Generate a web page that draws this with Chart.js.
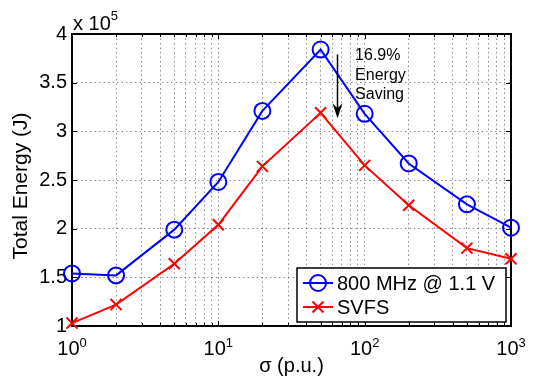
<!DOCTYPE html>
<html>
<head>
<meta charset="utf-8">
<script src="https://cdn.jsdelivr.net/npm/chart.js@4.4.1/dist/chart.umd.min.js"></script>
<style>
  html, body { margin: 0; padding: 0; background: #fff; }
  #c { display: block; }
</style>
</head>
<body>
<canvas id="c" width="536" height="383"></canvas>
<script>
// Total energy (x 10^5 J) versus sigma (p.u.)
const sigma = [1, 2, 5, 10, 20, 50, 100, 200, 500, 1000];
const energyFixed = [1.54, 1.52, 1.99, 2.48, 3.21, 3.84, 3.18, 2.67, 2.25, 2.01];
const energySVFS = [1.03, 1.22, 1.64, 2.04, 2.64, 3.19, 2.65, 2.24, 1.80, 1.69];
const seriesNames = ['800 MHz @ 1.1 V', 'SVFS'];
const yTicks = [1, 1.5, 2, 2.5, 3, 3.5, 4];
const xDecadeExponents = [0, 1, 2, 3];
const savingLines = ['16.9%', 'Energy', 'Saving'];
const savingAnchor = { sigma: 86, energy: 3.80 };
const arrowAt = { sigma: 65, from: 3.79, to: 3.135 };

const FONT = '"Liberation Sans", Arial, Helvetica, sans-serif';
const BLUE = '#0000ff';
const RED = '#ff0000';

// grid positions on the log axis: 1..9 in every decade, then 1000
const xGrid = [];
xDecadeExponents.slice(0, -1).forEach(e => {
  for (let k = 1; k <= 9; k++) xGrid.push(k * Math.pow(10, e));
});
xGrid.push(Math.pow(10, xDecadeExponents[xDecadeExponents.length - 1]));
const isDecade = v => xDecadeExponents.some(e => Math.abs(Math.pow(10, e) - v) < 1e-9);

const toPoints = vals => sigma.map((s, i) => ({ x: s, y: vals[i] }));

function drawMarker(ctx, style, cx, cy, color) {
  ctx.save();
  ctx.strokeStyle = color;
  ctx.lineWidth = 2;
  ctx.beginPath();
  if (style === 'circle') {
    ctx.arc(cx, cy, 8, 0, Math.PI * 2);
  } else {
    const h = 5.5;
    ctx.moveTo(cx - h, cy - h); ctx.lineTo(cx + h, cy + h);
    ctx.moveTo(cx - h, cy + h); ctx.lineTo(cx + h, cy - h);
  }
  ctx.stroke();
  ctx.restore();
}

const decorations = {
  id: 'decorations',
  beforeDatasetsDraw(chart) {
    const { ctx, chartArea: a, scales: { x, y } } = chart;
    ctx.save();
    ctx.strokeStyle = '#000';
    ctx.lineWidth = 1;
    ctx.beginPath();
    // inward tick marks on all four sides
    x.ticks.forEach(t => {
      const px = Math.round(x.getPixelForValue(t.value)) + 0.5;
      const len = t.major ? 5 : 3;
      ctx.moveTo(px, a.bottom); ctx.lineTo(px, a.bottom - len);
      ctx.moveTo(px, a.top); ctx.lineTo(px, a.top + len);
    });
    y.ticks.forEach(t => {
      const py = Math.round(y.getPixelForValue(t.value)) + 0.5;
      ctx.moveTo(a.left, py); ctx.lineTo(a.left + 5, py);
      ctx.moveTo(a.right, py); ctx.lineTo(a.right - 5, py);
    });
    ctx.stroke();
    // axes box
    ctx.lineWidth = 2;
    ctx.strokeRect(a.left, a.top, a.right - a.left, a.bottom - a.top);
    ctx.restore();
  },
  afterDraw(chart) {
    const { ctx, chartArea: a, scales: { x, y } } = chart;
    ctx.save();
    ctx.fillStyle = '#000';

    // x tick labels: 10^n
    xDecadeExponents.forEach(e => {
      const px = x.getPixelForValue(Math.pow(10, e));
      ctx.font = '20px ' + FONT;
      const wBase = ctx.measureText('10').width;
      ctx.font = '13px ' + FONT;
      const wExp = ctx.measureText(String(e)).width;
      const left = px - (wBase + wExp) / 2;
      ctx.textAlign = 'left';
      ctx.textBaseline = 'alphabetic';
      ctx.font = '20px ' + FONT;
      ctx.fillText('10', left, a.bottom + 29);
      ctx.font = '13px ' + FONT;
      ctx.fillText(String(e), left + wBase, a.bottom + 21);
    });

    // y multiplier: x 10^5
    ctx.font = '20px ' + FONT;
    ctx.textAlign = 'left';
    ctx.fillText('x 10', a.left + 1, a.top - 4);
    const wm = ctx.measureText('x 10').width;
    ctx.font = '13px ' + FONT;
    ctx.fillText('5', a.left + 1 + wm, a.top - 14);

    // axis titles
    ctx.font = '20px ' + FONT;
    ctx.textAlign = 'center';
    ctx.fillText('\u03c3 (p.u.)', (a.left + a.right) / 2, a.bottom + 46);
    ctx.save();
    ctx.translate(27, (a.top + a.bottom) / 2 + 6);
    ctx.rotate(-Math.PI / 2);
    ctx.font = '21px ' + FONT;
    ctx.fillText('Total Energy (J)', 0, 0);
    ctx.restore();

    // saving note and arrow
    ctx.font = '16px ' + FONT;
    ctx.textAlign = 'left';
    const tx = x.getPixelForValue(savingAnchor.sigma);
    const ty = y.getPixelForValue(savingAnchor.energy);
    savingLines.forEach((s, i) => ctx.fillText(s, tx, ty + 7 + i * 19.5));

    const ax = Math.round(x.getPixelForValue(arrowAt.sigma)) + 0.5;
    const ay0 = y.getPixelForValue(arrowAt.from);
    const ay1 = y.getPixelForValue(arrowAt.to);
    ctx.strokeStyle = '#000';
    ctx.lineWidth = 1.5;
    ctx.beginPath();
    ctx.moveTo(ax, ay0); ctx.lineTo(ax, ay1 - 8);
    ctx.stroke();
    ctx.beginPath();
    ctx.moveTo(ax, ay1);
    ctx.lineTo(ax - 5, ay1 - 15);
    ctx.lineTo(ax, ay1 - 10);
    ctx.lineTo(ax + 5, ay1 - 15);
    ctx.closePath();
    ctx.fill();

    // legend
    const lw = 209, lh = 54;
    const lx = a.right - lw - 5, ly = a.bottom - lh - 4;
    ctx.fillStyle = '#fff';
    ctx.fillRect(lx, ly, lw, lh);
    ctx.strokeStyle = '#000';
    ctx.lineWidth = 1.5;
    ctx.strokeRect(lx, ly, lw, lh);
    const entries = [
      { name: seriesNames[0], color: BLUE, marker: 'circle' },
      { name: seriesNames[1], color: RED, marker: 'cross' }
    ];
    entries.forEach((en, i) => {
      const cy = ly + 15 + i * 24;
      ctx.strokeStyle = en.color;
      ctx.lineWidth = 2;
      ctx.beginPath();
      ctx.moveTo(lx + 6, cy); ctx.lineTo(lx + 36, cy);
      ctx.stroke();
      drawMarker(ctx, en.marker, lx + 21, cy, en.color);
      ctx.fillStyle = '#000';
      ctx.font = '20px ' + FONT;
      ctx.textAlign = 'left';
      ctx.textBaseline = 'middle';
      ctx.fillText(en.name, lx + 40, cy + 1);
    });
    ctx.restore();
  }
};

const gridStyle = { color: 'rgba(0,0,0,0.45)', lineWidth: 1, drawTicks: false };

new Chart(document.getElementById('c'), {
  type: 'line',
  data: {
    datasets: [
      {
        label: seriesNames[0],
        data: toPoints(energyFixed),
        borderColor: BLUE,
        borderWidth: 2,
        pointStyle: 'circle',
        pointRadius: 8,
        pointBorderWidth: 2,
        pointBorderColor: BLUE,
        pointBackgroundColor: 'rgba(0,0,0,0)',
        tension: 0,
        clip: false
      },
      {
        label: seriesNames[1],
        data: toPoints(energySVFS),
        borderColor: RED,
        borderWidth: 2,
        pointStyle: 'crossRot',
        pointRadius: 7.8,
        pointBorderWidth: 2,
        pointBorderColor: RED,
        pointBackgroundColor: RED,
        tension: 0,
        clip: false
      }
    ]
  },
  options: {
    responsive: false,
    animation: false,
    devicePixelRatio: 1,
    layout: { padding: { left: 0, right: 25, top: 34, bottom: 0 } },
    plugins: { legend: { display: false }, tooltip: { enabled: false } },
    scales: {
      x: {
        type: 'logarithmic',
        min: 1,
        max: 1000,
        grid: gridStyle,
        border: { display: false, dash: [1.5, 3] },
        ticks: { display: false },
        afterBuildTicks: s => { s.ticks = xGrid.map(v => ({ value: v, major: isDecade(v) })); },
        afterFit: s => { s.height = 57; }
      },
      y: {
        type: 'linear',
        min: 1,
        max: 4,
        grid: gridStyle,
        border: { display: false, dash: [1.5, 3] },
        ticks: {
          color: '#000',
          padding: 5,
          font: { family: FONT, size: 20 },
          callback: v => String(v)
        },
        afterBuildTicks: s => { s.ticks = yTicks.map(v => ({ value: v })); },
        afterFit: s => { s.width = 72; }
      }
    }
  },
  plugins: [decorations]
});
</script>
</body>
</html>
